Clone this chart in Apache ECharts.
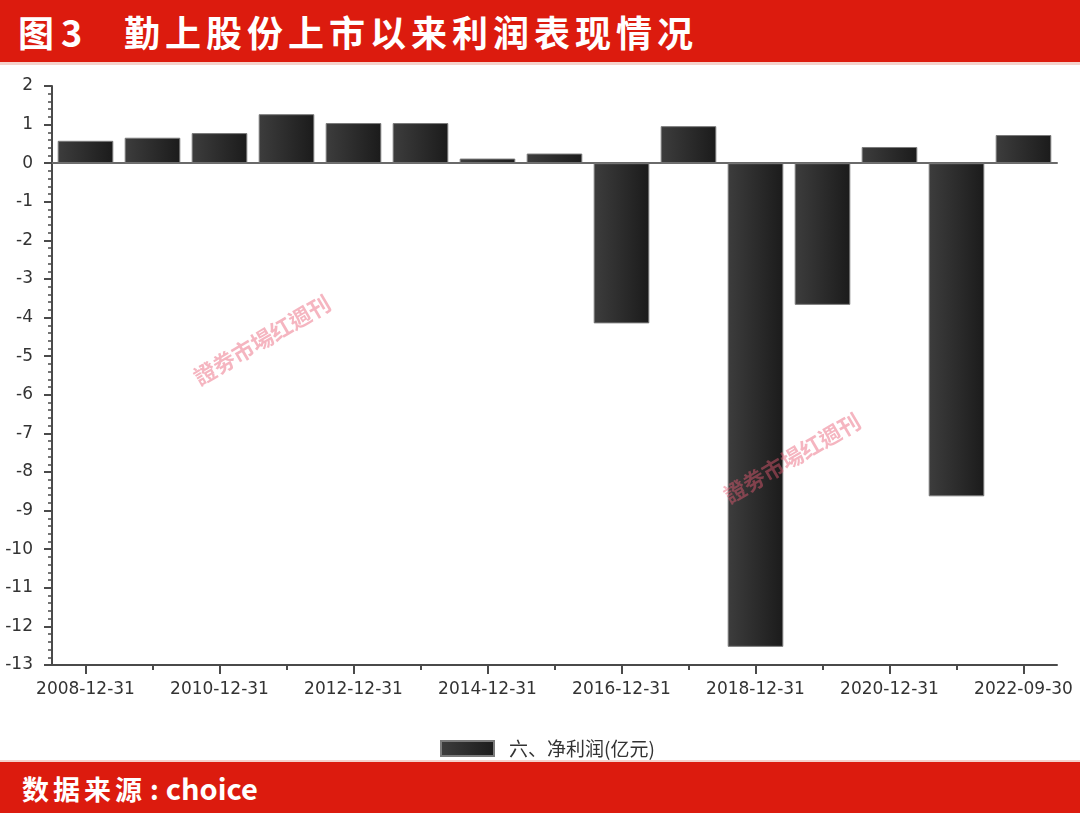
<!DOCTYPE html>
<html>
<head>
<meta charset="utf-8">
<script src="https://cdn.jsdelivr.net/npm/echarts@6/dist/echarts.min.js"></script>
<style>
  html, body { margin: 0; padding: 0; background: #fff; }
  #wrap { position: relative; width: 1080px; height: 813px; overflow: hidden; }
  #chart { position: absolute; left: 0; top: 0; width: 1080px; height: 813px; }
  #titlebar { position: absolute; left: 0; top: 0; width: 1080px; height: 62px; background: #dc1b0e;
              border-bottom: 3px solid #f4d2cc; z-index: 5; }
  #titlebar span { position: absolute; top: 10px; color: #fff; font-family: "Noto Sans CJK SC"; font-weight: 700;
                   font-size: 36px; line-height: 42px; white-space: nowrap; }
  #footbar { position: absolute; left: 0; top: 760px; width: 1080px; height: 53px; background: #dc1b0e;
             border-top: 2px solid #f4d2cc; z-index: 5; }
  #footbar .ft { position: absolute; left: 22px; top: 9px; color: #fff; font-family: "Noto Sans CJK SC"; font-weight: 700;
                  font-size: 27px; line-height: 32px; white-space: nowrap; }
</style>
</head>
<body>
<div id="wrap">
  <div id="chart"></div>
  <div id="titlebar">
    <span style="left:18px;letter-spacing:7px;">图3</span>
    <span style="left:124px;letter-spacing:5px;">勤上股份上市以来利润表现情况</span>
  </div>
  <div id="footbar"><div class="ft"><span style="letter-spacing:4px;">数据来源</span><span style="margin:0 7px 0 4px;">:</span><span style="font-size:29px;">choice</span></div></div>
</div>
<script>
// ---- data ----
const categories = ['2008-12-31','2009-12-31','2010-12-31','2011-12-31','2012-12-31','2013-12-31','2014-12-31',
                    '2015-12-31','2016-12-31','2017-12-31','2018-12-31','2019-12-31','2020-12-31','2021-12-31','2022-09-30'];
const netProfit = [0.58, 0.66, 0.78, 1.27, 1.04, 1.04, 0.12, 0.25, -4.15, 0.96, -12.53, -3.67, 0.42, -8.63, 0.73];
const seriesName = '六、净利润(亿元)';
const yMin = -13, yMax = 2, yStep = 1;

const chart = echarts.init(document.getElementById('chart'), null, { renderer: 'canvas' });
const axisColor = '#4a4a4a';
const labelFont = { fontFamily: 'DejaVu Sans', fontSize: 17, color: '#333' };
const barFill = new echarts.graphic.LinearGradient(0, 0, 1, 0, [
  { offset: 0, color: '#3d3d3d' },
  { offset: 1, color: '#1b1b1b' }
]);

chart.setOption({
  animation: false,
  backgroundColor: '#ffffff',
  grid: { left: 52, right: 23, top: 86, bottom: 148, containLabel: false },
  legend: {
    left: 435, top: 734,
    itemWidth: 53, itemHeight: 15, itemGap: 10,
    icon: 'rect',
    data: [seriesName],
    textStyle: { fontFamily: 'Noto Sans CJK SC', fontSize: 19, color: '#333', padding: [0, 0, 0, 10] }
  },
  xAxis: [
    {
      type: 'category', data: categories, position: 'bottom',
      axisLine: { onZero: false, lineStyle: { color: axisColor, width: 2 } },
      axisTick: { show: true, alignWithLabel: true, interval: 1, length: 9, lineStyle: { color: axisColor, width: 2 } },
      axisLabel: Object.assign({ interval: 1, margin: 16 }, labelFont),
      splitLine: { show: false }
    },
    {
      type: 'category', data: categories, position: 'bottom',
      axisLine: { show: false, onZero: false },
      axisTick: { show: true, alignWithLabel: true, interval: 0, length: 5, lineStyle: { color: axisColor, width: 2 } },
      axisLabel: { show: false },
      splitLine: { show: false }
    },
    {
      type: 'category', data: categories,
      axisLine: { show: true, onZero: true, lineStyle: { color: '#6a6a6a', width: 2 } },
      axisTick: { show: false },
      axisLabel: { show: false },
      splitLine: { show: false }
    }
  ],
  yAxis: {
    type: 'value', min: yMin, max: yMax, interval: yStep,
    axisLine: { show: true, lineStyle: { color: axisColor, width: 2 } },
    axisTick: { show: true, length: 8, lineStyle: { color: axisColor, width: 2 } },
    minorTick: { show: true, splitNumber: 5, length: 4, lineStyle: { color: axisColor, width: 1.5 } },
    axisLabel: Object.assign({ margin: 19 }, labelFont),
    splitLine: { show: false },
    minorSplitLine: { show: false }
  },
  series: [{
    name: seriesName,
    type: 'bar',
    xAxisIndex: 0,
    data: netProfit,
    barWidth: '83%',
    itemStyle: { color: barFill, borderColor: '#7a7a7a', borderWidth: 1 },
    z: 2
  }],
  graphic: [
    {
      type: 'text', x: 262, y: 340, rotation: 0.53, z: 100,
      style: { text: '證劵市場红週刊', fontFamily: 'Noto Sans CJK TC', fontSize: 22, fontWeight: 700,
               fill: 'rgba(232,90,115,0.45)', align: 'center', verticalAlign: 'middle' }
    },
    {
      type: 'text', x: 792, y: 458, rotation: 0.53, z: 100,
      style: { text: '證劵市場红週刊', fontFamily: 'Noto Sans CJK TC', fontSize: 22, fontWeight: 700,
               fill: 'rgba(232,90,115,0.45)', align: 'center', verticalAlign: 'middle' }
    }
  ]
});
</script>
</body>
</html>
